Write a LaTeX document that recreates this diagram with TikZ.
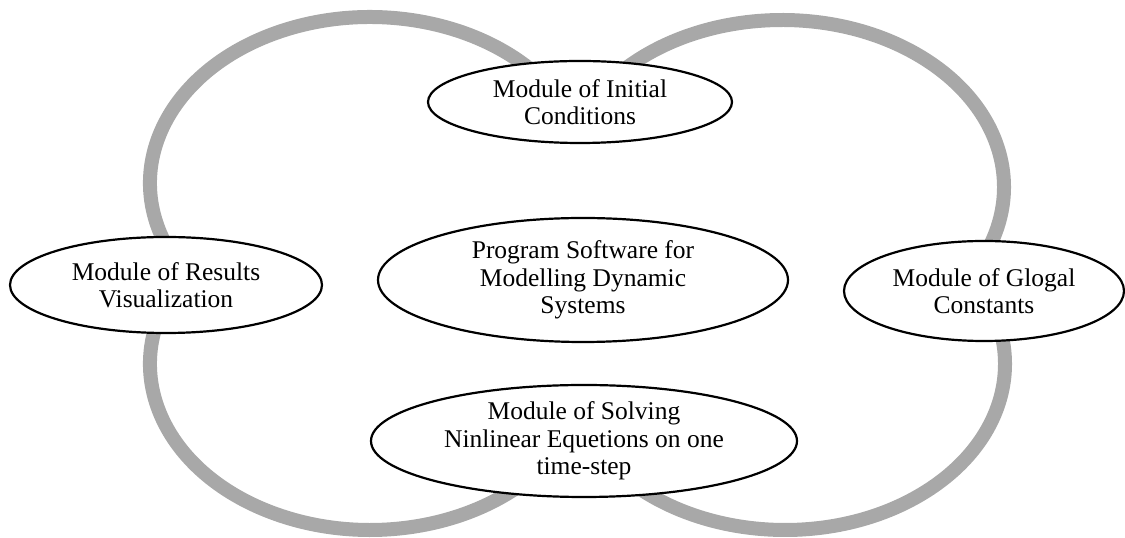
\documentclass[tikz,border=0pt]{standalone}
\usepackage{fontspec}
\setmainfont{Liberation Serif}
\usetikzlibrary{shapes.geometric,backgrounds}
\definecolor{ringgray}{HTML}{A8A8A8}
\begin{document}
\begin{tikzpicture}[x=1pt,y=1pt,
  ring/.style={draw=ringgray, line width=14pt},
  module/.style={ellipse, draw=black, line width=2.2pt, fill=white, inner sep=-6pt,
    align=center, font=\fontsize{25.5}{27.5}\selectfont}]
\useasboundingbox (0,0) rectangle (1125,538);
\node[module, minimum width=304pt, minimum height=82pt] (init) at (580,436) {Module of Initial\\Conditions};
\node[module, minimum width=312pt, minimum height=96pt] (res) at (166,253) {Module of Results\\Visualization};
\node[module, minimum width=410pt, minimum height=124pt] (prog) at (583,258) {Program Software for\\Modelling Dynamic\\Systems};
\node[module, minimum width=280pt, minimum height=100pt] (glob) at (984,247) {Module of Glogal\\Constants};
\node[module, minimum width=426pt, minimum height=112pt] (solv) at (584,97) {Module of Solving\\Ninlinear Equetions on one\\time-step};
\begin{scope}[on background layer]
\coordinate (ctl) at (370,355);
\coordinate (ctr) at (782,351);
\coordinate (cbl) at (370,174);
\coordinate (cbr) at (785,174);
\draw[ring] (ctl) ++(205:220 and 166) arc[start angle=205, end angle=35, x radius=220, y radius=166];
\draw[ring] (ctr) ++(140:222 and 167) arc[start angle=140, end angle=-25, x radius=222, y radius=167];
\draw[ring] (cbl) ++(155:220 and 166) arc[start angle=155, end angle=320, x radius=220, y radius=166];
\draw[ring] (cbr) ++(220:220 and 166) arc[start angle=220, end angle=385, x radius=220, y radius=166];
\end{scope}
\end{tikzpicture}
\end{document}
